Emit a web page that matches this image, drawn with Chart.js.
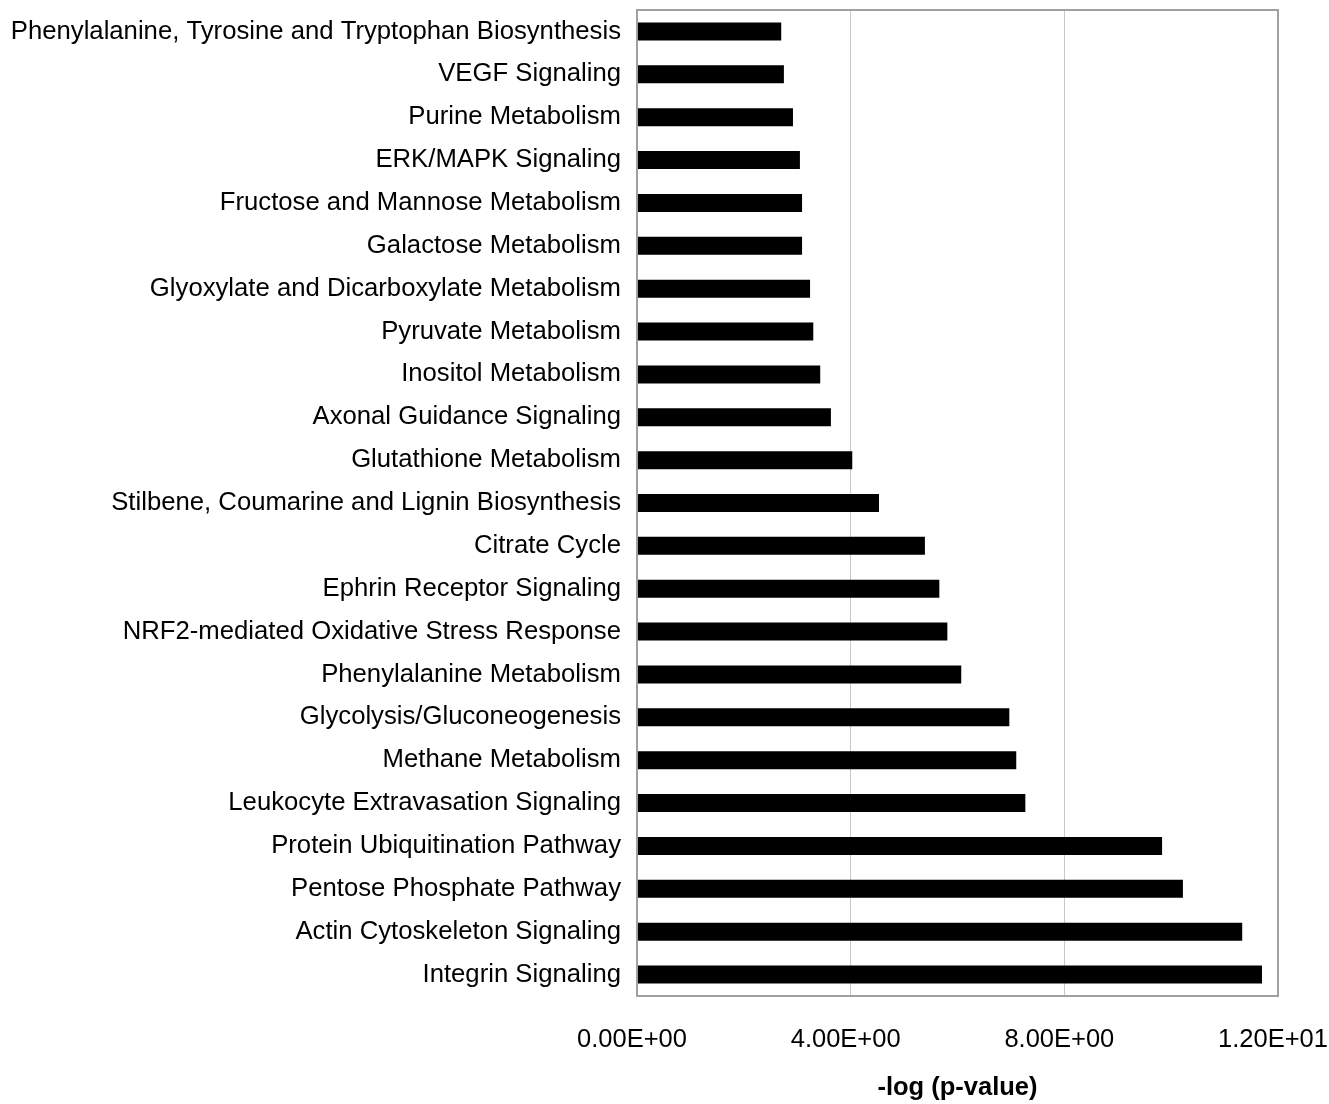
<!DOCTYPE html>
<html>
<head>
<meta charset="utf-8">
<script src="https://cdn.jsdelivr.net/npm/chart.js@4.4.0/dist/chart.umd.min.js"></script>
<style>
    html, body { margin: 0; padding: 0; background: #fff; }
    canvas { display: block; }
</style>
</head>
<body>
<canvas id="pathwayChart" width="1329" height="1104"></canvas>
<script>
// Pathways, top to bottom
const pathways = [
    'Phenylalanine, Tyrosine and Tryptophan Biosynthesis',
    'VEGF Signaling',
    'Purine Metabolism',
    'ERK/MAPK Signaling',
    'Fructose and Mannose Metabolism',
    'Galactose Metabolism',
    'Glyoxylate and Dicarboxylate Metabolism',
    'Pyruvate Metabolism',
    'Inositol Metabolism',
    'Axonal Guidance Signaling',
    'Glutathione Metabolism',
    'Stilbene, Coumarine and Lignin Biosynthesis',
    'Citrate Cycle',
    'Ephrin Receptor Signaling',
    'NRF2-mediated Oxidative Stress Response',
    'Phenylalanine Metabolism',
    'Glycolysis/Gluconeogenesis',
    'Methane Metabolism',
    'Leukocyte Extravasation Signaling',
    'Protein Ubiquitination Pathway',
    'Pentose Phosphate Pathway',
    'Actin Cytoskeleton Signaling',
    'Integrin Signaling'
];

// -log(p-value) per pathway
const negLogP = [
    2.70, 2.75, 2.92, 3.05, 3.09, 3.09, 3.24, 3.30, 3.43, 3.63,
    4.03, 4.53, 5.39, 5.66, 5.81, 6.07, 6.97, 7.10, 7.27,
    9.83, 10.22, 11.33, 11.70
];

const xTicks = [0, 4, 8, 12];

Chart.defaults.color = '#000';
Chart.defaults.font.family = '"Liberation Sans", Arial, sans-serif';

// draws the gray frame around the plot area
const plotFrame = {
    id: 'plotFrame',
    afterDraw(chart) {
        const a = chart.chartArea;
        const ctx = chart.ctx;
        ctx.save();
        ctx.strokeStyle = '#a0a0a0';
        ctx.lineWidth = 2;
        ctx.strokeRect(a.left, a.top, a.right - a.left, a.bottom - a.top);
        ctx.restore();
    }
};

new Chart(document.getElementById('pathwayChart').getContext('2d'), {
    type: 'bar',
    data: {
        labels: pathways,
        datasets: [{
            data: negLogP,
            backgroundColor: '#000',
            borderWidth: 0,
            categoryPercentage: 1,
            barPercentage: 0.42
        }]
    },
    options: {
        indexAxis: 'y',
        responsive: false,
        animation: false,
        layout: { padding: { top: 10, right: 51, bottom: 0, left: 0 } },
        plugins: {
            legend: { display: false },
            tooltip: { enabled: false }
        },
        scales: {
            x: {
                min: 0,
                max: 12,
                afterBuildTicks: function(scale) {
                    scale.ticks = xTicks.map(v => ({ value: v }));
                },
                afterFit: function(scale) {
                    scale.height = 108;
                    scale.paddingLeft = 0;
                    scale.paddingRight = 0;
                },
                ticks: {
                    padding: 29,
                    labelOffset: -5,
                    maxRotation: 0,
                    font: { size: 25.5 },
                    callback: function(value) {
                        return value.toExponential(2).toUpperCase().replace(/E([+-])(\d)$/, 'E$10$2');
                    }
                },
                grid: { color: '#c8c8c8', lineWidth: 1, drawTicks: false },
                border: { display: false },
                title: {
                    display: true,
                    text: '-log (p-value)',
                    font: { size: 25.5, weight: 'bold' },
                    padding: { top: 0, bottom: 1 }
                }
            },
            y: {
                afterFit: function(scale) {
                    scale.width = 637;
                    scale.paddingTop = 0;
                    scale.paddingBottom = 0;
                },
                ticks: {
                    padding: 16,
                    font: { size: 25.7 },
                    autoSkip: false
                },
                grid: { display: false, drawTicks: false },
                border: { display: false }
            }
        }
    },
    plugins: [plotFrame]
});
</script>
</body>
</html>
